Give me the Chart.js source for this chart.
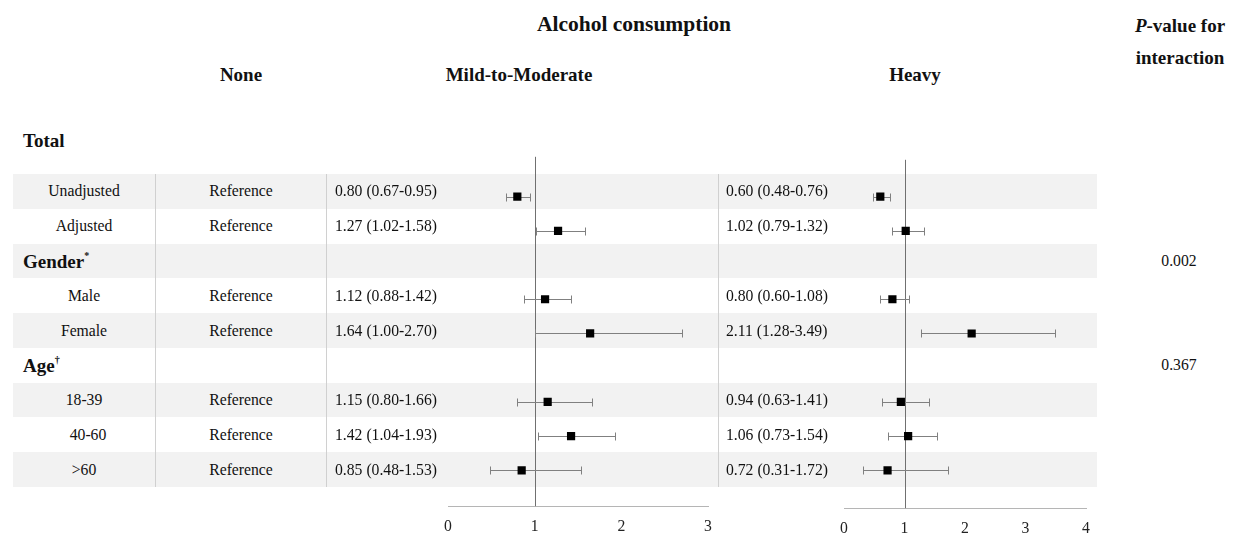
<!DOCTYPE html>
<html>
<head>
<meta charset="utf-8">
<script src="https://cdn.jsdelivr.net/npm/chart.js@4.4.1/dist/chart.umd.min.js"></script>
<style>
  html, body { margin: 0; padding: 0; background: #fff; }
  body { width: 1241px; height: 533px; position: relative; overflow: hidden;
         font-family: "Liberation Serif", "Times New Roman", serif; color: #111; }
  .t { position: absolute; white-space: nowrap; line-height: 1; font-size: 15.7px; z-index: 3; }
  .b { font-weight: bold; font-size: 19px; }
  .c { transform: translate(-50%, -50%); }
  .l { transform: translateY(-50%); }
  .band { position: absolute; left: 13px; width: 1084px; background: #f2f2f2; z-index: 0; }
  .vline { position: absolute; width: 1px; background: #d0d0d0; z-index: 1; }
  .panel { position: absolute; z-index: 2; }
  sup { font-size: 10px; line-height: 0; position: relative; top: -2px; }
</style>
</head>
<body>
<div class="panel" id="wrap-mild"><canvas id="canvas-mild"></canvas></div>
<div class="panel" id="wrap-heavy"><canvas id="canvas-heavy"></canvas></div>
<script>
// ── DATA ──
const subgroups  = ['Unadjusted', 'Adjusted', 'Gender', 'Male', 'Female', 'Age', '18-39', '40-60', '>60'];
const groupRows  = { 2: 'Gender<sup>*</sup>', 5: 'Age<sup>†</sup>' };
const noneText   = 'Reference';

const mildOR  = [0.80, 1.27, null, 1.12, 1.64, null, 1.15, 1.42, 0.85];
const mildLo  = [0.67, 1.02, null, 0.88, 1.00, null, 0.80, 1.04, 0.48];
const mildHi  = [0.95, 1.58, null, 1.42, 2.70, null, 1.66, 1.93, 1.53];

const heavyOR = [0.60, 1.02, null, 0.80, 2.11, null, 0.94, 1.06, 0.72];
const heavyLo = [0.48, 0.79, null, 0.60, 1.28, null, 0.63, 0.73, 0.31];
const heavyHi = [0.76, 1.32, null, 1.08, 3.49, null, 1.41, 1.54, 1.72];

const pInteraction = [null, null, '0.002', null, null, '0.367', null, null, null];

const mildTicks  = [0, 1, 2, 3];
const heavyTicks = [0, 1, 2, 3, 4];
const refValue   = 1;

// ── LAYOUT ──
const ROW_TOP = 174;
const ROW_H   = 34.78;
const rowY = i => ROW_TOP + ROW_H * (i + 0.5);
const FONT = '"Liberation Serif", "Times New Roman", serif';

function text(html, x, y, cls) {
  const d = document.createElement('div');
  d.className = 't ' + cls;
  d.innerHTML = html;
  d.style.left = x + 'px';
  d.style.top = y + 'px';
  document.body.appendChild(d);
  return d;
}
const esc = s => s.replace(/&/g, '&amp;').replace(/</g, '&lt;').replace(/>/g, '&gt;');
const fmt = (v, lo, hi) => `${v.toFixed(2)} (${lo.toFixed(2)}-${hi.toFixed(2)})`;

// row bands (every other row shaded, starting with the first)
subgroups.forEach((_, i) => {
  if (i % 2) return;
  const b = document.createElement('div');
  b.className = 'band';
  b.style.top = (ROW_TOP + ROW_H * i) + 'px';
  b.style.height = ROW_H + 'px';
  document.body.appendChild(b);
});

// column separators
[155, 326, 718].forEach(x => {
  const v = document.createElement('div');
  v.className = 'vline';
  v.style.left = x + 'px';
  v.style.top = ROW_TOP + 'px';
  v.style.height = (ROW_H * subgroups.length) + 'px';
  document.body.appendChild(v);
});

// headers
text('Alcohol consumption', 634, 25, 'b c').style.fontSize = '21.5px';
text('<i>P</i>-value for', 1180, 25, 'b c');
text('interaction', 1180, 57, 'b c');
text('None', 241, 74, 'b c');
text('Mild-to-Moderate', 519, 74, 'b c');
text('Heavy', 915, 74, 'b c');
text('Total', 23, 140, 'b l');

// table cells
subgroups.forEach((name, i) => {
  const y = rowY(i);
  if (groupRows[i]) {
    text(groupRows[i], 23, y, 'b l');
  } else {
    text(esc(name), name === '40-60' ? 88 : 84, y, 'c');
    text(noneText, 241, y, 'c');
    text(fmt(mildOR[i], mildLo[i], mildHi[i]), 335, y, 'l');
    text(fmt(heavyOR[i], heavyLo[i], heavyHi[i]), 726, y, 'l');
  }
  if (pInteraction[i]) text(pInteraction[i], 1179, y, 'c');
});

// ── FOREST PANELS ──
const PAD = 20;
const AXIS_PAD = 11;
const panels = [
  { id: 'mild',  or: mildOR,  lo: mildLo,  hi: mildHi,  ticks: mildTicks,  left: 448, right: 708,  top: 151, axisY: 506 },
  { id: 'heavy', or: heavyOR, lo: heavyLo, hi: heavyHi, ticks: heavyTicks, left: 844, right: 1086, top: 154, axisY: 508 },
];

function ciPlugin(p) {
  return {
    id: 'ci-' + p.id,
    beforeDatasetsDraw(chart) {
      const { ctx, chartArea, scales: { x, y } } = chart;
      ctx.save();
      ctx.lineWidth = 1;
      // reference line
      const rx = Math.round(x.getPixelForValue(refValue)) + 0.5;
      ctx.strokeStyle = '#707070';
      ctx.beginPath();
      ctx.moveTo(rx, chartArea.top);
      ctx.lineTo(rx, chartArea.bottom);
      ctx.stroke();
      // confidence intervals with caps
      ctx.strokeStyle = '#808080';
      p.or.forEach((v, i) => {
        if (v == null) return;
        const py = Math.round(y.getPixelForValue(i)) + 0.5;
        const x1 = Math.round(x.getPixelForValue(p.lo[i])) + 0.5;
        const x2 = Math.round(x.getPixelForValue(p.hi[i])) + 0.5;
        ctx.beginPath();
        ctx.moveTo(x1, py); ctx.lineTo(x2, py);
        ctx.moveTo(x1, py - 4); ctx.lineTo(x1, py + 4);
        ctx.moveTo(x2, py - 4); ctx.lineTo(x2, py + 4);
        ctx.stroke();
      });
      ctx.restore();
    }
  };
}

panels.forEach(p => {
  const wrap = document.getElementById('wrap-' + p.id);
  const areaH = p.axisY - p.top;
  wrap.style.left = (p.left - PAD) + 'px';
  wrap.style.top = p.top + 'px';
  wrap.style.width = (p.right - p.left + 2 * PAD) + 'px';
  wrap.style.height = (areaH + 19 + 2 * AXIS_PAD) + 'px';

  const yMin = (p.top - ROW_TOP) / ROW_H - 0.5;
  const yMax = (p.axisY - ROW_TOP) / ROW_H - 0.5;

  new Chart(document.getElementById('canvas-' + p.id), {
    type: 'scatter',
    data: {
      datasets: [{
        data: p.or.map((v, i) => v == null ? null : { x: v, y: i }).filter(Boolean),
        pointStyle: 'rect',
        pointRadius: 5.8,
        backgroundColor: '#000',
        borderWidth: 0,
      }]
    },
    options: {
      responsive: true,
      maintainAspectRatio: false,
      animation: false,
      events: [],
      layout: { padding: { left: PAD, right: PAD, top: 0, bottom: 0 } },
      plugins: { legend: { display: false }, tooltip: { enabled: false } },
      scales: {
        x: {
          type: 'linear',
          min: p.ticks[0],
          max: p.ticks[p.ticks.length - 1],
          afterBuildTicks: axis => { axis.ticks = p.ticks.map(v => ({ value: v })); },
          grid: { display: false, drawTicks: false },
          border: { display: true, color: '#b5b5b5', width: 1 },
          ticks: { color: '#222', padding: AXIS_PAD, font: { family: FONT, size: 15.7 } }
        },
        y: {
          type: 'linear',
          reverse: true,
          min: yMin,
          max: yMax,
          display: false
        }
      }
    },
    plugins: [ciPlugin(p)]
  });
});
</script>
</body>
</html>
